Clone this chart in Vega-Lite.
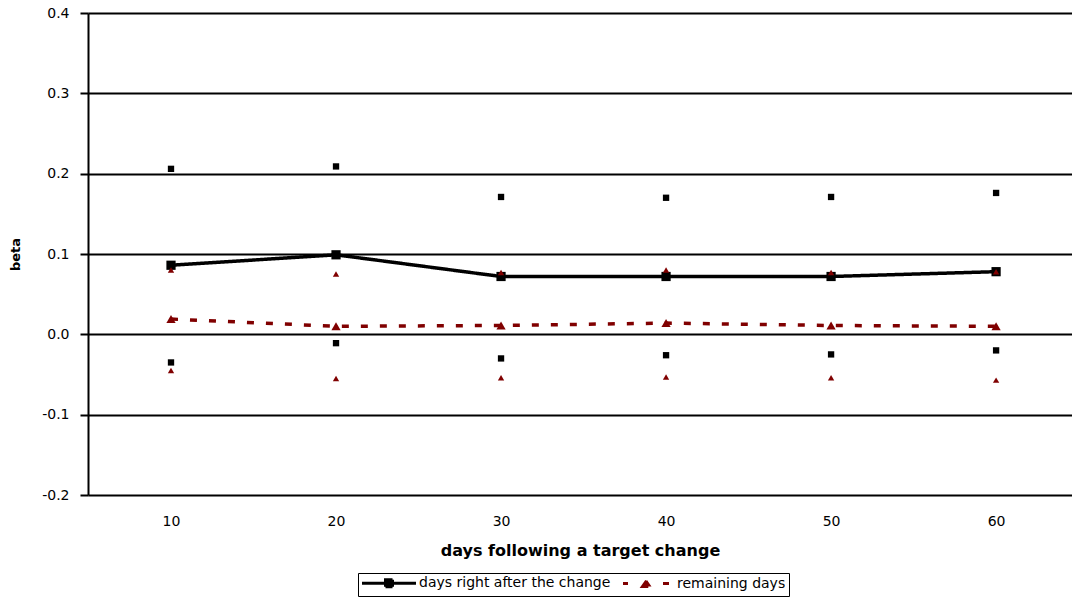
{
  "$schema": "https://vega.github.io/schema/vega-lite/v6.json",
  "width": 984,
  "height": 482,
  "autosize": {"type": "none"},
  "padding": {"left": 88, "top": 13, "right": 0, "bottom": 103},
  "background": "white",
  "config": {
    "view": {"stroke": null},
    "font": "DejaVu Sans"
  },
  "data": {
    "values": [
      {"day": 10, "series": "days right after the change", "kind": "mid", "beta": 0.086},
      {"day": 20, "series": "days right after the change", "kind": "mid", "beta": 0.099},
      {"day": 30, "series": "days right after the change", "kind": "mid", "beta": 0.072},
      {"day": 40, "series": "days right after the change", "kind": "mid", "beta": 0.072},
      {"day": 50, "series": "days right after the change", "kind": "mid", "beta": 0.072},
      {"day": 60, "series": "days right after the change", "kind": "mid", "beta": 0.078},
      {"day": 10, "series": "days right after the change", "kind": "upper", "beta": 0.206},
      {"day": 20, "series": "days right after the change", "kind": "upper", "beta": 0.209},
      {"day": 30, "series": "days right after the change", "kind": "upper", "beta": 0.171},
      {"day": 40, "series": "days right after the change", "kind": "upper", "beta": 0.170},
      {"day": 50, "series": "days right after the change", "kind": "upper", "beta": 0.171},
      {"day": 60, "series": "days right after the change", "kind": "upper", "beta": 0.176},
      {"day": 10, "series": "days right after the change", "kind": "lower", "beta": -0.035},
      {"day": 20, "series": "days right after the change", "kind": "lower", "beta": -0.011},
      {"day": 30, "series": "days right after the change", "kind": "lower", "beta": -0.030},
      {"day": 40, "series": "days right after the change", "kind": "lower", "beta": -0.026},
      {"day": 50, "series": "days right after the change", "kind": "lower", "beta": -0.025},
      {"day": 60, "series": "days right after the change", "kind": "lower", "beta": -0.020},
      {"day": 10, "series": "remaining days", "kind": "mid", "beta": 0.019},
      {"day": 20, "series": "remaining days", "kind": "mid", "beta": 0.010},
      {"day": 30, "series": "remaining days", "kind": "mid", "beta": 0.011},
      {"day": 40, "series": "remaining days", "kind": "mid", "beta": 0.014},
      {"day": 50, "series": "remaining days", "kind": "mid", "beta": 0.011},
      {"day": 60, "series": "remaining days", "kind": "mid", "beta": 0.010},
      {"day": 10, "series": "remaining days", "kind": "upper", "beta": 0.080},
      {"day": 20, "series": "remaining days", "kind": "upper", "beta": 0.075},
      {"day": 30, "series": "remaining days", "kind": "upper", "beta": 0.077},
      {"day": 40, "series": "remaining days", "kind": "upper", "beta": 0.080},
      {"day": 50, "series": "remaining days", "kind": "upper", "beta": 0.077},
      {"day": 60, "series": "remaining days", "kind": "upper", "beta": 0.078},
      {"day": 10, "series": "remaining days", "kind": "lower", "beta": -0.045},
      {"day": 20, "series": "remaining days", "kind": "lower", "beta": -0.055},
      {"day": 30, "series": "remaining days", "kind": "lower", "beta": -0.054},
      {"day": 40, "series": "remaining days", "kind": "lower", "beta": -0.053},
      {"day": 50, "series": "remaining days", "kind": "lower", "beta": -0.054},
      {"day": 60, "series": "remaining days", "kind": "lower", "beta": -0.057}
    ]
  },
  "encoding": {
    "x": {
      "field": "day", "type": "quantitative",
      "scale": {"domain": [4.97, 64.6], "nice": false, "zero": false},
      "axis": {
        "values": [10, 20, 30, 40, 50, 60], "format": "d",
        "grid": false, "domain": false, "ticks": false, "tickSize": 0,
        "labelPadding": 19, "labelFontSize": 14, "labelColor": "black", "labelFont": "DejaVu Sans",
        "title": "days following a target change",
        "titleFont": "DejaVu Sans", "titleFontSize": 16, "titleFontWeight": "bold", "titleColor": "black",
        "titleBaseline": "alphabetic", "titleY": 60
      }
    },
    "y": {
      "field": "beta", "type": "quantitative",
      "scale": {"domain": [-0.2, 0.4], "nice": false, "zero": false},
      "axis": {
        "values": [-0.2, -0.1, 0, 0.1, 0.2, 0.3, 0.4],
        "labelExpr": "datum.value < 0 ? '-' + format(-datum.value, '.1f') : format(datum.value, '.1f')",
        "grid": true, "gridColor": "black", "gridWidth": 2, "gridOpacity": 1,
        "domain": true, "domainColor": "black", "domainWidth": 2,
        "ticks": true, "tickSize": 8, "tickColor": "black", "tickWidth": 2,
        "labelPadding": 11, "labelFontSize": 14, "labelColor": "black", "labelFont": "DejaVu Sans",
        "title": "beta", "titleFont": "DejaVu Sans", "titleFontSize": 13, "titleFontWeight": "bold", "titleColor": "black",
        "titleBaseline": "middle", "titleX": -73, "titleY": 241, "titleAngle": -90
      }
    },
    "color": {
      "field": "series", "type": "nominal",
      "scale": {"domain": ["days right after the change", "remaining days"], "range": ["black", "#800000"]},
      "legend": {
        "orient": "none", "legendX": 270, "legendY": 560, "direction": "horizontal", "title": null,
        "strokeColor": "black", "fillColor": "white", "padding": 3,
        "labelFont": "DejaVu Sans", "labelFontSize": 14, "labelColor": "black", "labelLimit": 400,
        "symbolSize": 100, "symbolStrokeWidth": 3, "columnPadding": 6,
        "encode": {
          "symbols": {
            "update": {
              "shape": {"signal": "datum.value === 'remaining days' ? 'M-4.8,0L-3.8,0M3.2,0L4.4,0M-0.9,0.6L0,-0.7L0.9,0.6Z' : 'M-5.4,0L5.4,0M-0.7,-0.7L0.7,-0.7L0.7,0.7L-0.7,0.7Z'"},
              "fill": {"signal": "datum.value === 'remaining days' ? '#800000' : 'black'"},
              "stroke": {"signal": "datum.value === 'remaining days' ? '#800000' : 'black'"},
              "strokeWidth": {"value": 3},
              "strokeOpacity": {"value": 1},
              "strokeDash": {"value": [1, 0]},
              "opacity": {"value": 1},
              "x": {"value": 28}
            }
          },
          "labels": {
            "update": {"x": {"value": 58}}
          }
        }
      }
    }
  },
  "layer": [
    {
      "transform": [{"filter": "datum.kind === 'mid'"}],
      "mark": {"type": "line", "strokeWidth": 3.5},
      "encoding": {
        "strokeDash": {
          "field": "series", "type": "nominal",
          "scale": {"domain": ["days right after the change", "remaining days"], "range": [[1, 0], [7, 12]]},
          "legend": null
        }
      }
    },
    {
      "transform": [{"filter": "datum.kind === 'mid' && datum.series === 'days right after the change'"}],
      "mark": {"type": "point", "filled": true, "opacity": 1, "size": 85, "shape": "square"}
    },
    {
      "transform": [{"filter": "datum.kind === 'mid' && datum.series === 'remaining days'"}],
      "mark": {"type": "point", "filled": true, "opacity": 1, "size": 85, "shape": "triangle-up"}
    },
    {
      "transform": [{"filter": "datum.kind !== 'mid' && datum.series === 'days right after the change'"}],
      "mark": {"type": "point", "filled": true, "opacity": 1, "size": 40, "shape": "square"}
    },
    {
      "transform": [{"filter": "datum.kind !== 'mid' && datum.series === 'remaining days'"}],
      "mark": {"type": "point", "filled": true, "opacity": 1, "size": 40, "shape": "triangle-up"}
    }
  ]
}
